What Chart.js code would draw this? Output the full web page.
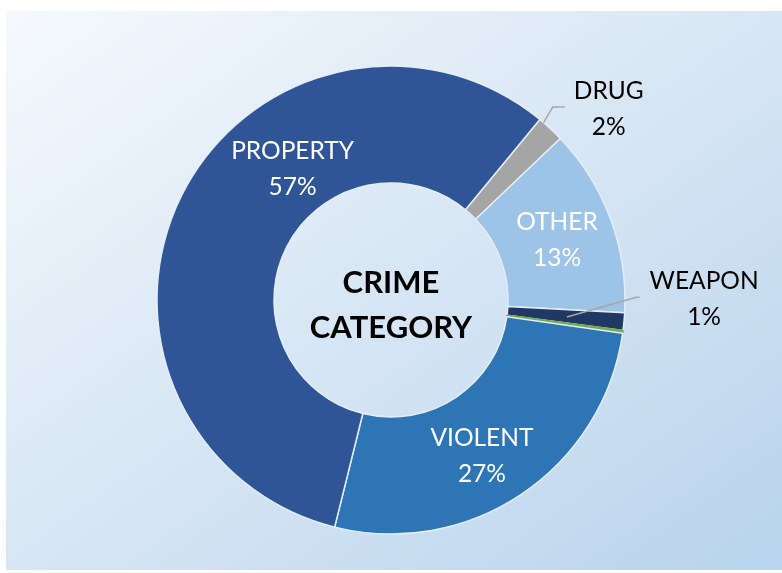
<!DOCTYPE html>
<html>
<head>
<meta charset="utf-8">
<title>Crime Category</title>
<script src="https://cdn.jsdelivr.net/npm/chart.js@4.4.1/dist/chart.umd.min.js"></script>
<style>
  html, body { margin: 0; padding: 0; background: #fff; }
  #wrap { position: relative; width: 782px; height: 573px; }
  #bg {
    position: absolute; left: 6px; top: 11px; width: 776px; height: 559px;
    background: linear-gradient(to bottom right, #f5f9fd 0%, #d7e6f4 50%, #b8d3ec 100%);
  }
  #chart { position: absolute; left: 0; top: 0; }
</style>
</head>
<body>
<div id="wrap">
  <div id="bg"></div>
  <canvas id="chart" width="782" height="573"></canvas>
</div>
<script>
// ---- data ----
const categories = ['DRUG', 'OTHER', 'WEAPON', 'MISC', 'VIOLENT', 'PROPERTY'];
const shares     = [1.9, 13, 1.2, 0.2, 26.6, 57.1];
const sliceColors = ['#a5a5a5', '#9dc3e6', '#203864', '#70ad47', '#2e75b6', '#2f5597'];
const centerTitle = ['CRIME', 'CATEGORY'];

// label placement: angle (deg, clockwise from top) and distance as a fraction of outer radius
const labelLayout = {
  DRUG:     { ang: 48.6,  dist: 1.24,  color: '#000', leader: { ang: 40.7, dist: 1.0, elbow: [-21, -1], end: [-9, -1] } },
  OTHER:    { ang: 70,    dist: 0.755, color: '#fff' },
  WEAPON:   { ang: 89.7,  dist: 1.338, color: '#000', leader: { ang: 95.5, dist: 0.755, elbow: [-13, -1], end: [-10, -1] } },
  VIOLENT:  { ang: 149.6, dist: 0.768, color: '#fff' },
  PROPERTY: { ang: 323.2, dist: 0.702, color: '#fff' }
};

const FONT = "Lato, 'Open Sans', sans-serif";

function pct(v) {
  const total = shares.reduce((a, b) => a + b, 0);
  return Math.round(v / total * 100) + '%';
}

function polar(cx, cy, ang, d) {
  const a = ang * Math.PI / 180;
  return [cx + d * Math.sin(a), cy - d * Math.cos(a)];
}

// ---- labels + centre text ----
const labelPlugin = {
  id: 'crimeLabels',
  afterDatasetsDraw(chart) {
    const ctx = chart.ctx;
    const arc = chart.getDatasetMeta(0).data[0];
    const cx = arc.x, cy = arc.y, R = arc.outerRadius;

    ctx.save();
    ctx.textAlign = 'center';
    ctx.textBaseline = 'alphabetic';

    // centre title
    ctx.fillStyle = '#000';
    ctx.font = 'bold 31px ' + FONT;
    const capC = 31 * 0.72, lhC = 45;
    ctx.fillText(centerTitle[0], cx, cy + 4 - lhC / 2 + capC / 2);
    ctx.fillText(centerTitle[1], cx, cy + 4 + lhC / 2 + capC / 2);

    // slice labels
    ctx.font = '24.5px ' + FONT;
    const cap = 24.5 * 0.72, lh = 36;
    categories.forEach((name, i) => {
      const lay = labelLayout[name];
      if (!lay) return;
      const [lx, ly] = polar(cx, cy, lay.ang, lay.dist * R);
      const lines = [name, pct(shares[i])];

      if (lay.leader) {
        const w = ctx.measureText(name).width;
        const left = lx - w / 2;
        const [sx, sy] = polar(cx, cy, lay.leader.ang, lay.leader.dist * R);
        ctx.strokeStyle = '#a6a6a6';
        ctx.lineWidth = 1.5;
        ctx.beginPath();
        ctx.moveTo(sx, sy);
        ctx.lineTo(left + lay.leader.elbow[0], ly + lay.leader.elbow[1]);
        ctx.lineTo(left + lay.leader.end[0], ly + lay.leader.end[1]);
        ctx.stroke();
      }

      ctx.fillStyle = lay.color;
      ctx.fillText(lines[0], lx, ly - lh / 2 + cap / 2);
      ctx.fillText(lines[1], lx, ly + lh / 2 + cap / 2);
    });
    ctx.restore();
  }
};

new Chart(document.getElementById('chart'), {
  type: 'doughnut',
  data: {
    labels: categories,
    datasets: [{
      data: shares,
      backgroundColor: sliceColors,
      // the tiny green sliver keeps its own colour as border so it stays visible
      borderColor: sliceColors.map(c => c === '#70ad47' ? c : '#e3edf8'),
      borderWidth: 1.5
    }]
  },
  options: {
    responsive: false,
    animation: false,
    events: [],
    rotation: 39.5,
    radius: 234,
    cutout: '50%',
    layout: { padding: { top: 40, bottom: 13, left: 0, right: 0 } },
    plugins: {
      legend: { display: false },
      tooltip: { enabled: false }
    }
  },
  plugins: [labelPlugin]
});
</script>
</body>
</html>
